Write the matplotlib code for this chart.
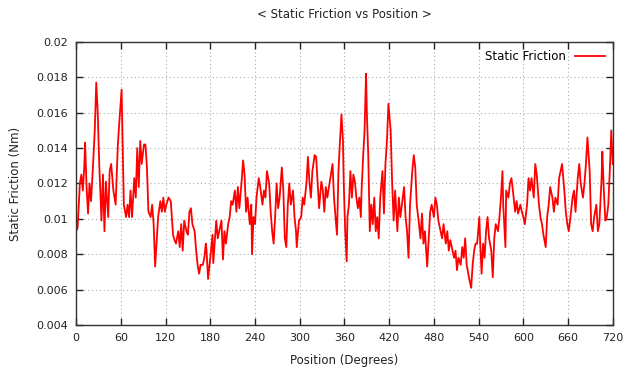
import matplotlib
matplotlib.use("Agg")
import matplotlib.pyplot as plt
from matplotlib.ticker import MultipleLocator, FormatStrFormatter

# readings taken off the reference curve (degrees, Nm)
position = [
    0, 2, 5, 7, 9, 11, 12, 14, 16, 18, 20, 23, 25, 27, 29, 31, 34, 36, 38, 40,
    43, 45, 47, 50, 53, 56, 58, 61, 62, 64, 67, 69, 71, 73, 75, 78, 80, 82, 84, 86,
    88, 91, 93, 95, 97, 100, 102, 104, 106, 110, 113, 115, 117, 119, 121, 124, 127, 130, 132, 134,
    137, 139, 141, 143, 145, 148, 150, 152, 154, 156, 159, 161, 163, 165, 167, 170, 172, 174, 175, 177,
    180, 183, 184, 187, 188, 190, 192, 195, 197, 199, 201, 204, 206, 208, 210, 213, 215, 217, 219, 222,
    224, 226, 228, 230, 233, 235, 236, 238, 240, 242, 245, 247, 250, 252, 254, 256, 259, 261, 263, 265,
    267, 269, 271, 273, 276, 278, 280, 282, 284, 286, 288, 291, 293, 295, 296, 299, 302, 304, 306, 309,
    311, 313, 315, 317, 320, 322, 324, 326, 329, 331, 333, 335, 337, 341, 344, 346, 348, 350, 352, 354,
    356, 358, 359, 361, 363, 364, 366, 368, 370, 372, 374, 376, 378, 380, 382, 383, 385, 387, 389, 390,
    392, 394, 396, 398, 400, 402, 404, 406, 408, 411, 413, 415, 417, 419, 422, 424, 426, 428, 431, 433,
    435, 437, 440, 442, 444, 446, 448, 451, 453, 455, 457, 460, 462, 464, 466, 468, 471, 473, 475, 477,
    480, 482, 484, 486, 489, 491, 493, 496, 498, 500, 502, 504, 507, 509, 511, 513, 516, 518, 520, 522,
    524, 527, 530, 532, 534, 536, 538, 541, 542, 544, 546, 548, 550, 552, 554, 557, 559, 561, 563, 566,
    568, 570, 572, 573, 576, 577, 580, 582, 584, 586, 589, 591, 593, 596, 598, 600, 602, 605, 607, 609,
    611, 614, 616, 618, 621, 623, 625, 627, 630, 632, 634, 636, 639, 641, 643, 646, 648, 650, 652, 655,
    657, 659, 661, 664, 666, 668, 670, 673, 675, 677, 680, 682, 684, 686, 689, 691, 693, 695, 698, 700,
    702, 705, 706, 708, 710, 712, 714, 716, 718, 720,
]
friction = [
    0.0093, 0.0095, 0.0120, 0.0125, 0.0116, 0.0130, 0.0143, 0.0118, 0.0103, 0.0120,
    0.0110, 0.0133, 0.0150, 0.0177, 0.0160, 0.0131, 0.0099, 0.0125, 0.0093, 0.0121,
    0.0101, 0.0127, 0.0131, 0.0116, 0.0108, 0.0142, 0.0155, 0.0173, 0.0151, 0.0108,
    0.0101, 0.0108, 0.0101, 0.0116, 0.0101, 0.0123, 0.0112, 0.0140, 0.0118, 0.0144,
    0.0131, 0.0142, 0.0142, 0.0129, 0.0104, 0.0101, 0.0108, 0.0097, 0.0073, 0.0101,
    0.0110, 0.0104, 0.0112, 0.0104, 0.0108, 0.0112, 0.0110, 0.0091, 0.0088, 0.0086,
    0.0093, 0.0084, 0.0097, 0.0082, 0.0099, 0.0093, 0.0091, 0.0104, 0.0106, 0.0097,
    0.0093, 0.0082, 0.0074, 0.0069, 0.0074, 0.0074, 0.0078, 0.0086, 0.0082, 0.0066,
    0.0078, 0.0091, 0.0075, 0.0093, 0.0099, 0.0089, 0.0093, 0.0099, 0.0077, 0.0093,
    0.0086, 0.0097, 0.0101, 0.0110, 0.0108, 0.0116, 0.0104, 0.0118, 0.0106, 0.0121,
    0.0133, 0.0125, 0.0104, 0.0112, 0.0097, 0.0108, 0.0080, 0.0101, 0.0097, 0.0112,
    0.0123, 0.0118, 0.0108, 0.0116, 0.0112, 0.0127, 0.0120, 0.0104, 0.0093, 0.0086,
    0.0101, 0.0120, 0.0106, 0.0112, 0.0129, 0.0116, 0.0089, 0.0084, 0.0108, 0.0120,
    0.0108, 0.0116, 0.0101, 0.0093, 0.0084, 0.0099, 0.0101, 0.0112, 0.0108, 0.0120,
    0.0135, 0.0121, 0.0112, 0.0127, 0.0136, 0.0135, 0.0120, 0.0106, 0.0121, 0.0116,
    0.0104, 0.0118, 0.0112, 0.0123, 0.0131, 0.0112, 0.0101, 0.0091, 0.0127, 0.0144,
    0.0159, 0.0144, 0.0121, 0.0093, 0.0076, 0.0101, 0.0108, 0.0127, 0.0112, 0.0125,
    0.0121, 0.0112, 0.0106, 0.0112, 0.0101, 0.0116, 0.0135, 0.0150, 0.0182, 0.0161,
    0.0135, 0.0093, 0.0108, 0.0097, 0.0112, 0.0093, 0.0101, 0.0089, 0.0112, 0.0127,
    0.0103, 0.0131, 0.0144, 0.0165, 0.0150, 0.0120, 0.0099, 0.0116, 0.0093, 0.0112,
    0.0101, 0.0108, 0.0118, 0.0101, 0.0093, 0.0078, 0.0108, 0.0127, 0.0136, 0.0129,
    0.0108, 0.0097, 0.0089, 0.0103, 0.0086, 0.0093, 0.0073, 0.0089, 0.0104, 0.0108,
    0.0101, 0.0112, 0.0108, 0.0099, 0.0093, 0.0089, 0.0097, 0.0086, 0.0093, 0.0082,
    0.0088, 0.0084, 0.0078, 0.0082, 0.0071, 0.0078, 0.0074, 0.0084, 0.0078, 0.0089,
    0.0074, 0.0067, 0.0061, 0.0074, 0.0082, 0.0086, 0.0086, 0.0101, 0.0088, 0.0069,
    0.0086, 0.0078, 0.0093, 0.0101, 0.0089, 0.0082, 0.0067, 0.0089, 0.0097, 0.0093,
    0.0101, 0.0112, 0.0127, 0.0108, 0.0084, 0.0116, 0.0112, 0.0120, 0.0123, 0.0116,
    0.0104, 0.0110, 0.0103, 0.0108, 0.0104, 0.0101, 0.0097, 0.0108, 0.0123, 0.0116,
    0.0123, 0.0112, 0.0131, 0.0125, 0.0108, 0.0101, 0.0097, 0.0091, 0.0084, 0.0101,
    0.0108, 0.0118, 0.0112, 0.0104, 0.0112, 0.0108, 0.0123, 0.0127, 0.0131, 0.0116,
    0.0104, 0.0097, 0.0093, 0.0104, 0.0112, 0.0116, 0.0104, 0.0123, 0.0131, 0.0120,
    0.0112, 0.0120, 0.0131, 0.0146, 0.0127, 0.0097, 0.0093, 0.0101, 0.0108, 0.0093,
    0.0097, 0.0123, 0.0138, 0.0116, 0.0099, 0.0101, 0.0108, 0.0127, 0.0150, 0.0131,
]

fig = plt.figure(figsize=(6.24, 3.74), dpi=100)
ax = fig.add_axes([0.122, 0.131, 0.860, 0.757])

ax.plot(position, friction, color="#ff0000", lw=1.3, label="Static Friction")

ax.set_xlim(0, 720)
ax.set_ylim(0.004, 0.02)
ax.xaxis.set_major_locator(MultipleLocator(60))
ax.yaxis.set_major_locator(MultipleLocator(0.002))
ax.yaxis.set_major_formatter(FormatStrFormatter("%g"))
ax.tick_params(direction="in", top=True, right=True, length=5, width=1,
               labelsize=8, colors="#222222", pad=6)
ax.grid(True, ls=(0, (1, 2.5)), color="#aaaaaa", lw=0.8)
for s in ax.spines.values():
    s.set_color("#333333")
    s.set_linewidth(1.0)

ax.set_title("< Static Friction vs Position >", fontsize=8.5, color="#222222", pad=17)
ax.set_xlabel("Position (Degrees)", fontsize=8.5, color="#222222", labelpad=8)
ax.set_ylabel("Static Friction (Nm)", fontsize=8.5, color="#222222", labelpad=10)

ax.legend(loc="upper right", frameon=False, markerfirst=False, fontsize=8.5,
          handlelength=2.5, borderaxespad=0.3)

fig.savefig("out.png", dpi=100)
